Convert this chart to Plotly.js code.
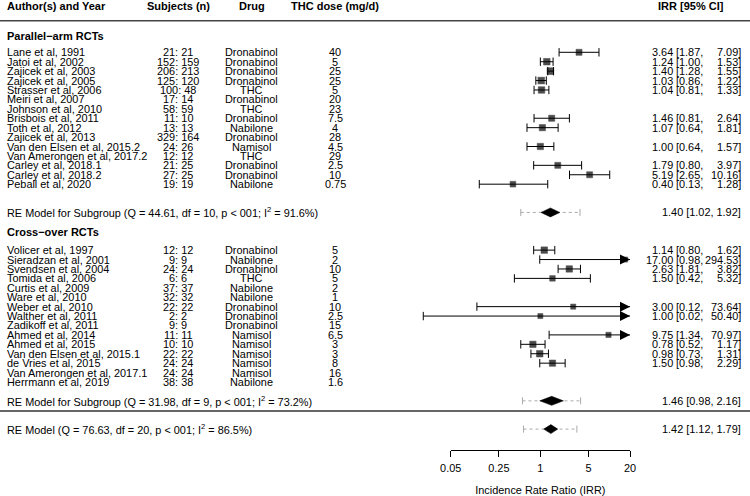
<!DOCTYPE html>
<html><head><meta charset="utf-8">
<script src="https://cdn.plot.ly/plotly-3.0.1.min.js"></script>
<style>html,body{margin:0;padding:0;background:#fff}#chart{width:750px;height:496px}</style>
</head><body><div id="chart"></div>
<script>
// ---------------- data ----------------
const studyLabels = ["Lane et al, 1991","Jatoi et al, 2002","Zajicek et al, 2003","Zajicek et al, 2005","Strasser et al, 2006","Meiri et al, 2007","Johnson et al, 2010","Brisbois et al, 2011","Toth et al, 2012","Zajicek et al, 2013","Van den Elsen et al, 2015.2","Van Amerongen et al, 2017.2","Carley et al, 2018.1","Carley et al, 2018.2","Peball et al, 2020",
  "Volicer et al, 1997","Sieradzan et al, 2001","Svendsen et al, 2004","Tomida et al, 2006","Curtis et al, 2009","Ware et al, 2010","Weber et al, 2010","Walther et al, 2011","Zadikoff et al, 2011","Ahmed et al, 2014","Ahmed et al, 2015","Van den Elsen et al, 2015.1","de Vries et al, 2015","Van Amerongen et al, 2017.1","Herrmann et al, 2019"];
const studyGroup = [0,0,0,0,0,0,0,0,0,0,0,0,0,0,0, 1,1,1,1,1,1,1,1,1,1,1,1,1,1,1];
const subjectCounts = ["21: 21","152: 159","206: 213","125: 120","100: 48","17: 14","58: 59","11: 10","13: 13","329: 164","24: 26","12: 12","21: 25","27: 25","19: 19",
  "12: 12","9: 9","24: 24","6: 6","37: 37","32: 32","22: 22","2: 2","9: 9","11: 11","10: 10","22: 22","24: 24","24: 24","38: 38"];
const drugNames = ["Dronabinol","Dronabinol","Dronabinol","Dronabinol","THC","Dronabinol","THC","Dronabinol","Nabilone","Dronabinol","Namisol","THC","Dronabinol","Dronabinol","Nabilone",
  "Dronabinol","Nabilone","Dronabinol","THC","Nabilone","Nabilone","Dronabinol","Dronabinol","Dronabinol","Namisol","Namisol","Namisol","Namisol","Namisol","Nabilone"];
const thcDoses = ["40","5","25","25","5","20","23","7.5","4","28","4.5","29","2.5","10","0.75",
  "5","2","10","5","2","1","10","2.5","15","6.5","3","3","8","16","1.6"];
const irr    = [3.64,1.24,1.40,1.03,1.04,null,null,1.46,1.07,null,1.00,null,1.79,5.19,0.40,
  1.14,17.00,2.63,1.50,null,null,3.00,1.00,null,9.75,0.78,0.98,1.50,null,null];
const ciLow  = [1.87,1.00,1.28,0.86,0.81,null,null,0.81,0.64,null,0.64,null,0.80,2.65,0.13,
  0.80,0.98,1.81,0.42,null,null,0.12,0.02,null,1.34,0.52,0.73,0.98,null,null];
const ciHigh = [7.09,1.53,1.55,1.22,1.33,null,null,2.64,1.81,null,1.57,null,3.97,10.16,1.28,
  1.62,294.53,3.82,5.32,null,null,73.64,50.40,null,70.97,1.17,1.31,2.29,null,null];
const weights = [5.0,7.5,8.5,8.0,7.3,null,null,5.5,6.0,null,6.2,null,4.8,5.0,3.5,
  7.2,0.6,6.8,2.8,null,null,0.8,0.5,null,1.3,6.5,7.4,6.3,null,null];

const groupLabels = ["Parallel\u2212arm RCTs","Cross\u2212over RCTs"];
const summaryLabels = ["RE Model for Subgroup (Q = 44.61, df = 10, p &lt; 001; I<sup>2</sup> = 91.6%)",
  "RE Model for Subgroup (Q = 31.98, df = 9, p &lt; 001; I<sup>2</sup> = 73.2%)",
  "RE Model (Q = 76.63, df = 20, p &lt; 001; I<sup>2</sup> = 86.5%)"];
const summaryEst  = [1.40,1.46,1.42];
const summaryLow  = [1.02,0.98,1.12];
const summaryHigh = [1.92,2.16,1.79];
const predLow  = [0.52,0.55,0.57];
const predHigh = [3.76,3.84,3.39];

const columnHeaders = ["Author(s) and Year","Subjects (n)","Drug","THC dose (mg/d)","IRR [95% CI]"];
const tickVals = [0.05,0.25,1,5,20];
const tickLabels = ["0.05","0.25","1","5","20"];
const axisTitle = "Incidence Rate Ratio (IRR)";

// ---------------- layout constants ----------------
const W = 750, H = 496;
const PX_PER_DEC = 68.91, X_ONE_PX = 540.35;
const ROW_PX = 9.42, ROW0_PX = 429.1;
const FONT = "Liberation Sans, Arial, Helvetica, sans-serif";
const FS = 10.9;
const groupStartRow = [40, 19];
const groupHeaderRow = [41.77, 20.96];
const summaryRow = [23, 3, 0];
const headerRow = 44.92;
const AXIS_PX = 450;
const rowOf = px => (ROW0_PX - px) / ROW_PX;
const lg = v => Math.log10(v);

const studyRows = [];
const counters = [0,0];
studyGroup.forEach(g => { studyRows.push(groupStartRow[g] - counters[g]); counters[g]++; });

const xMax = tickVals[tickVals.length-1];
const traces = [];

const lx = [], ly = [];
const capX = [], capY = [];
const arrX = [], arrY = [];
const sqX = [], sqY = [], sqS = [];
const wMax = Math.max(...weights.filter(w => w != null));
irr.forEach((v, i) => {
  if (v == null) return;
  const r = studyRows[i];
  const hi = Math.min(ciHigh[i], xMax);
  lx.push(ciLow[i], hi, null); ly.push(r, r, null);
  capX.push(ciLow[i]); capY.push(r);
  if (ciHigh[i] > xMax) { arrX.push(xMax); arrY.push(r); }
  else { capX.push(ciHigh[i]); capY.push(r); }
  sqX.push(v); sqY.push(r); sqS.push(5.0 + 1.8 * weights[i] / wMax);
});
traces.push({x: lx, y: ly, mode: 'lines', line: {color: '#000', width: 1}, hoverinfo: 'skip'});
traces.push({x: capX, y: capY, mode: 'markers', marker: {symbol: 'line-ns-open', size: 6, color: '#000', line: {color: '#000', width: 1}}, hoverinfo: 'skip'});
traces.push({x: sqX, y: sqY, mode: 'markers', marker: {symbol: 'square', size: sqS, color: '#000', line: {color: '#000', width: 0.5}}, hoverinfo: 'skip'});
traces.push({x: arrX, y: arrY, mode: 'markers', marker: {symbol: 'arrow-right', size: 10, color: '#000', line: {width: 0}}, hoverinfo: 'skip'});

summaryEst.forEach((v, k) => {
  const r = summaryRow[k];
  traces.push({x: [predLow[k], predHigh[k]], y: [r, r], mode: 'lines', line: {color: '#aaa', width: 1, dash: 'dot'}, hoverinfo: 'skip'});
  traces.push({x: [predLow[k], predHigh[k]], y: [r, r], mode: 'markers', marker: {symbol: 'line-ns-open', size: 5, color: '#aaa', line: {color: '#aaa', width: 1}}, hoverinfo: 'skip'});
  traces.push({x: [summaryLow[k], v, summaryHigh[k], v, summaryLow[k]], y: [r, r + 0.48, r, r - 0.48, r],
    mode: 'lines', fill: 'toself', fillcolor: '#000', line: {color: '#000', width: 0.5}, hoverinfo: 'skip'});
});

traces.push({x: [1], y: [-100], xaxis: 'x2', yaxis: 'y', mode: 'markers', marker: {opacity: 0}, hoverinfo: 'skip'});

const anns = [];
function ann(text, xpx, row, anchor, bold) {
  anns.push({x: xpx / W, xref: 'paper', y: row, yref: 'y', text: bold ? '<b>' + text + '</b>' : text,
    showarrow: false, xanchor: anchor, yanchor: 'middle', borderpad: 0,
    font: {family: FONT, size: bold ? 11 : FS, color: '#000'}});
}
ann(columnHeaders[0], 6, headerRow, 'left', true);
ann(columnHeaders[1], 178, headerRow, 'center', true);
ann(columnHeaders[2], 252, headerRow, 'center', true);
ann(columnHeaders[3], 335, headerRow, 'center', true);
ann(columnHeaders[4], 725, headerRow, 'right', true);
groupLabels.forEach((g, k) => ann(g, 6, groupHeaderRow[k], 'left', true));

studyLabels.forEach((s, i) => {
  const r = studyRows[i];
  ann(s, 6, r, 'left');
  ann(subjectCounts[i], 178, r, 'center');
  ann(drugNames[i], 251, r, 'center');
  ann(thcDoses[i], 335, r, 'center');
  if (irr[i] != null) {
    ann(irr[i].toFixed(2), 674, r, 'right');
    ann('[' + ciLow[i].toFixed(2) + ',', 675, r, 'left');
    ann(ciHigh[i].toFixed(2) + ']', 742, r, 'right');
  }
});
summaryLabels.forEach((s, k) => {
  const r = summaryRow[k];
  ann(s, 6, r, 'left');
  ann(summaryEst[k].toFixed(2) + ' [' + summaryLow[k].toFixed(2) + ', ' + summaryHigh[k].toFixed(2) + ']', 742, r, 'right');
});

const shapes = [
  {type: 'line', xref: 'paper', yref: 'y', x0: 0, x1: 1, y0: rowOf(20.7), y1: rowOf(20.7), line: {color: '#444', width: 1.5}},
  {type: 'line', xref: 'paper', yref: 'y', x0: 0, x1: 1, y0: rowOf(411), y1: rowOf(411), line: {color: '#333', width: 1.5}},
  {type: 'line', xref: 'x', yref: 'y', x0: lg(1), x1: lg(1), y0: rowOf(20.7), y1: rowOf(AXIS_PX), layer: 'below', line: {color: '#aaa', width: 1, dash: 'dot'}}
];

const layout = {
  width: W, height: H, margin: {l: 0, r: 0, t: 0, b: 0},
  paper_bgcolor: '#fff', plot_bgcolor: 'rgba(0,0,0,0)', showlegend: false,
  xaxis: {type: 'log', range: [-X_ONE_PX / PX_PER_DEC, (W - X_ONE_PX) / PX_PER_DEC], visible: false, fixedrange: true},
  yaxis: {range: [rowOf(H), rowOf(0)], visible: false, fixedrange: true},
  xaxis2: {type: 'log', range: [lg(tickVals[0]), lg(xMax)],
    domain: [(X_ONE_PX + PX_PER_DEC * lg(tickVals[0])) / W, (X_ONE_PX + PX_PER_DEC * lg(xMax)) / W],
    anchor: 'free', position: 1 - AXIS_PX / H,
    tickmode: 'array', tickvals: tickVals, ticktext: tickLabels,
    ticks: 'outside', ticklen: 6, tickwidth: 1, tickcolor: '#000',
    showline: true, linecolor: '#000', linewidth: 1, showgrid: false, zeroline: false,
    ticklabelstandoff: 2,
    tickfont: {family: FONT, size: FS, color: '#000'},
    title: {text: axisTitle, font: {family: FONT, size: FS, color: '#000'}, standoff: 15},
    fixedrange: true},
  annotations: anns, shapes: shapes
};
Plotly.newPlot('chart', traces, layout, {staticPlot: true, displayModeBar: false});
</script></body></html>
